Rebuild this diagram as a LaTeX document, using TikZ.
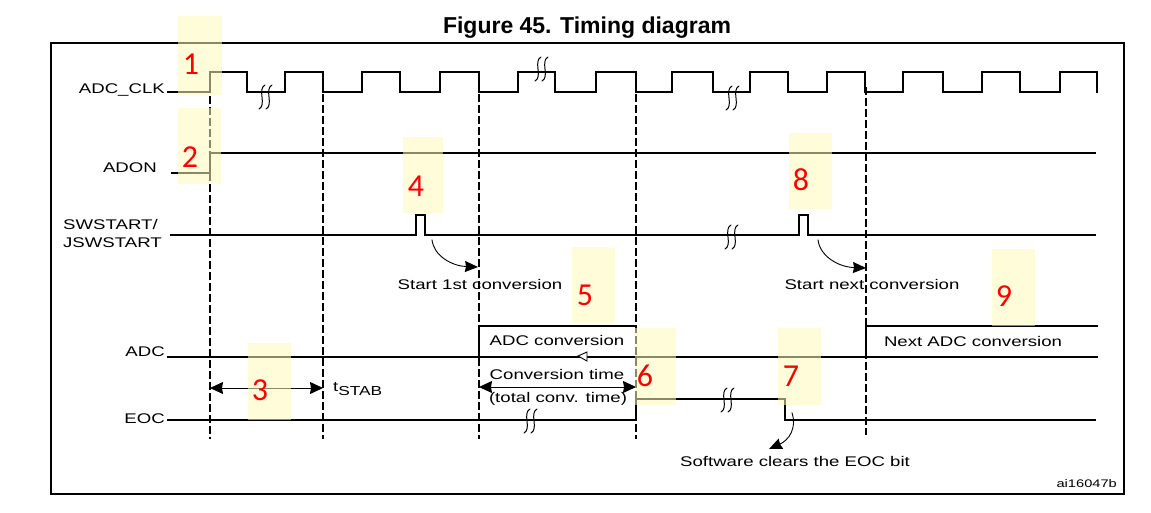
\documentclass[tikz,border=0pt]{standalone}
\usepackage{fontspec}
\setmainfont{Liberation Sans}
\newfontfamily\widefont[FakeStretch=1.33]{Liberation Sans}
\newfontfamily\numfont{Carlito}
\usetikzlibrary{arrows.meta}
\definecolor{hiyellow}{RGB}{255,249,185}

\begin{document}
\begin{tikzpicture}[x=1pt, y=-1pt, line cap=rect,
  font=\widefont\fontsize{14}{16}\selectfont,
  sig/.style={line width=1.6pt},
  guide/.style={line width=1.4pt, dash pattern=on 6pt off 5pt},
  lbl/.style={anchor=east, inner sep=0pt},
  txt/.style={inner sep=0pt},
  hilite/.style={fill=hiyellow, fill opacity=0.55, draw=none},
  num/.style={text=red, inner sep=0pt, font=\numfont\fontsize{32}{32}\selectfont},
  tip/.style={-{Stealth[length=13pt, width=11pt, inset=1pt]}},
  both/.style={{Stealth[length=13pt, width=12pt, inset=1pt]}-{Stealth[length=13pt, width=12pt, inset=1pt]}},
  squig/.pic={
    \draw[line width=1pt, line cap=round] (1,-12) .. controls (-7,-8) and (3,8) .. (-5,12);
    \draw[line width=1pt, line cap=round] (8,-12) .. controls (0,-8) and (10,8) .. (2,12);
  }]
  \useasboundingbox (0,0) rectangle (1151,512);
  % title and frame
  \node[txt, font=\bfseries\fontsize{23}{25}\selectfont] (title) at (587,28) {Figure 45. Timing diagram};
  \draw[line width=1.3pt] (51,43) rectangle (1124,494);
  \node[txt, anchor=east, font=\widefont\fontsize{11}{12}\selectfont] (ref) at (1117,484) {ai16047b};

  % signal names
  \node[lbl] (clk) at (165,90) {ADC\_CLK};
  \node[lbl] (adon) at (157,168) {ADON};
  \node[lbl, align=left, font=\widefont\fontsize{14}{18}\selectfont] (swstart) at (162,233) {SWSTART/\\JSWSTART};
  \node[lbl] (adc) at (165,352) {ADC};
  \node[lbl] (eoc) at (165,419) {EOC};

  % dashed markers
  \draw[guide] (210,97) -- (210,438);
  \draw[guide] (323,95) -- (323,438);
  \draw[guide] (479,95) -- (479,438);
  \draw[guide] (636,95) -- (636,438);
  \draw[guide] (866,88) -- (866,434);

  % ADC_CLK
  \draw[sig] (168,92) -- (210,92) -- (210,72) -- (247,72) -- (247,92) -- (285,92) -- (285,72)
    -- (323,72) -- (323,92) -- (362,92) -- (362,72) -- (400,72) -- (400,92) -- (440,92)
    -- (440,72) -- (479,72) -- (479,92) -- (518,92) -- (518,72) -- (555,72) -- (555,92)
    -- (596,92) -- (596,72) -- (636,72) -- (636,92) -- (672,92) -- (672,72) -- (713,72)
    -- (713,92) -- (750,92) -- (750,72) -- (788,72) -- (788,92) -- (827,92) -- (827,72)
    -- (865,72) -- (865,92) -- (903,92) -- (903,72) -- (943,72) -- (943,92) -- (982,92)
    -- (982,72) -- (1020,72) -- (1020,92) -- (1060,92) -- (1060,72) -- (1097,72) -- (1097,92);
  \pic at (264,97) {squig};
  \pic at (540,69) {squig};
  \pic at (731,98) {squig};

  % ADON
  \draw[sig] (172,173) -- (210,173) -- (210,153) -- (1095,153);

  % SWSTART / JSWSTART with two pulses
  \draw[sig] (171,235) -- (416,235) -- (416,215) -- (425,215) -- (425,235) -- (799,235)
    -- (799,215) -- (808,215) -- (808,235) -- (1095,235);
  \pic at (730,237) {squig};
  \coordinate (p1) at (432,240);
  \coordinate (c1) at (478,267);
  \draw[tip, line width=0.9pt] (p1) .. controls (434,256) and (452,266) .. (c1);
  \node[txt] (start1) at (480,284) {Start 1st conversion};
  \coordinate (p2) at (818,240);
  \coordinate (c2) at (866,268);
  \draw[tip, line width=0.9pt] (p2) .. controls (820,256) and (838,267) .. (c2);
  \node[txt] (startnext) at (872,284) {Start next conversion};

  % ADC
  \draw[sig] (168,357) -- (1097,357);
  \draw[sig] (479,357) -- (479,326) -- (636,326);
  \draw[sig] (866,357) -- (866,326) -- (1097,326);
  \node[txt] (conv) at (557,340) {ADC conversion};
  \node[txt] (nextconv) at (973,341) {Next ADC conversion};
  \draw[line width=0.9pt, fill=white] (578,356) -- (587,352) -- (587,361) -- cycle;

  % conversion time and stabilisation time
  \coordinate (a1) at (479,387);
  \coordinate (a2) at (636,387);
  \draw[both, line width=1pt] (a1) -- (a2);
  \node[txt] (convtime) at (557,374) {Conversion time};
  \node[txt] (totaltime) at (558,399) {(total conv. time)};
  \coordinate (b1) at (210,388);
  \coordinate (b2) at (323,388);
  \draw[both, line width=1pt] (b1) -- (b2);
  \node[txt, anchor=west] (tstab) at (333,389) {\raisebox{0.45ex}{t}\fontsize{13}{14}\selectfont STAB};

  % EOC
  \draw[sig] (168,420) -- (636,420) -- (636,399) -- (785,399) -- (785,420) -- (1095,420);
  \pic at (529,421) {squig};
  \pic at (726,400) {squig};
  \coordinate (p3) at (792,413);
  \coordinate (c3) at (769,449);
  \draw[tip, line width=0.9pt] (p3) .. controls (797,428) and (789,440) .. (c3);
  \node[txt] (swclear) at (795,461) {Software clears the EOC bit};

  % highlighted step numbers
  \fill[hilite] (178,16) rectangle (222,95);
  \fill[hilite] (178,108) rectangle (221,184);
  \fill[hilite] (248,343) rectangle (291,420);
  \fill[hilite] (403,137) rectangle (443,213);
  \fill[hilite] (572,247) rectangle (615,323);
  \fill[hilite] (635,328) rectangle (676,405);
  \fill[hilite] (778,328) rectangle (821,405);
  \fill[hilite] (789,133) rectangle (832,209);
  \fill[hilite] (992,249) rectangle (1035,326);
  \node[num] (n1) at (191,64) {1};
  \node[num] (n2) at (190,157) {2};
  \node[num] (n3) at (260,390) {3};
  \node[num] (n4) at (416,186) {4};
  \node[num] (n5) at (585,295) {5};
  \node[num] (n6) at (645,376) {6};
  \node[num] (n7) at (791,376) {7};
  \node[num] (n8) at (801,180) {8};
  \node[num] (n9) at (1004,296) {9};
\end{tikzpicture}
\end{document}
